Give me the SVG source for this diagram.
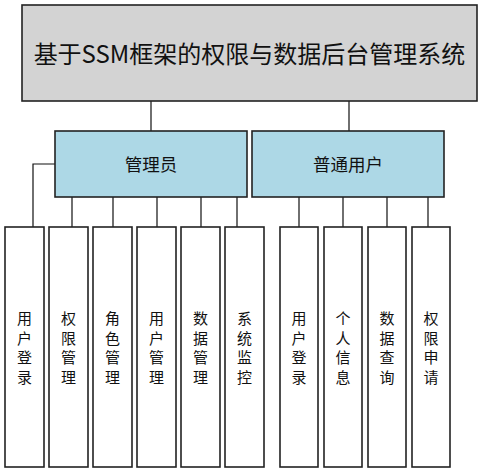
<svg xmlns="http://www.w3.org/2000/svg" width="483" height="473" viewBox="0 0 483 473">
<style>
.box{stroke:#222;stroke-width:1.6}
.root{fill:#d3d3d3}
.mid{fill:#add8e6}
.leaf{fill:#fff}
text{font-family:"Noto Sans CJK SC","Liberation Sans",sans-serif;fill:#111;text-anchor:middle;dominant-baseline:central}
.t1{font-size:24px}
.t2{font-size:17.5px}
.t3{font-size:15px}
.conn{fill:none;stroke:#111;stroke-width:1.2}
</style>
<rect width="483" height="473" fill="#fff"/>
<g id="connectors" class="conn">
<path d="M151 101V131M349 101V131"/>
<path d="M55 164H33V227M72 197V227M113 197V227M157 197V227M201 197V227M237 197V227"/>
<path d="M299 197V227M343 197V227M387 197V227M428 197V227"/>
</g>
<g id="root"><rect class="box root" x="22" y="5" width="455" height="96"/><text class="t1" x="249.5" y="52">基于SSM框架的权限与数据后台管理系统</text></g>
<g id="admin"><rect class="box mid" x="55" y="131" width="192" height="66"/><text class="t2" x="151" y="163">管理员</text></g>
<g id="user"><rect class="box mid" x="252" y="131" width="192" height="66"/><text class="t2" x="348" y="163">普通用户</text></g>
<g id="leaf1"><rect class="box leaf" x="5" y="227" width="39" height="240"/><text class="t3" x="24.5"><tspan x="24.5" y="317">用</tspan><tspan x="24.5" y="336.5">户</tspan><tspan x="24.5" y="356">登</tspan><tspan x="24.5" y="375.5">录</tspan></text></g>
<g id="leaf2"><rect class="box leaf" x="49" y="227" width="39" height="240"/><text class="t3" x="68.5"><tspan x="68.5" y="317">权</tspan><tspan x="68.5" y="336.5">限</tspan><tspan x="68.5" y="356">管</tspan><tspan x="68.5" y="375.5">理</tspan></text></g>
<g id="leaf3"><rect class="box leaf" x="93" y="227" width="39" height="240"/><text class="t3" x="112.5"><tspan x="112.5" y="317">角</tspan><tspan x="112.5" y="336.5">色</tspan><tspan x="112.5" y="356">管</tspan><tspan x="112.5" y="375.5">理</tspan></text></g>
<g id="leaf4"><rect class="box leaf" x="137" y="227" width="39" height="240"/><text class="t3" x="156.5"><tspan x="156.5" y="317">用</tspan><tspan x="156.5" y="336.5">户</tspan><tspan x="156.5" y="356">管</tspan><tspan x="156.5" y="375.5">理</tspan></text></g>
<g id="leaf5"><rect class="box leaf" x="181" y="227" width="39" height="240"/><text class="t3" x="200.5"><tspan x="200.5" y="317">数</tspan><tspan x="200.5" y="336.5">据</tspan><tspan x="200.5" y="356">管</tspan><tspan x="200.5" y="375.5">理</tspan></text></g>
<g id="leaf6"><rect class="box leaf" x="225" y="227" width="39" height="240"/><text class="t3" x="244.5"><tspan x="244.5" y="317">系</tspan><tspan x="244.5" y="336.5">统</tspan><tspan x="244.5" y="356">监</tspan><tspan x="244.5" y="375.5">控</tspan></text></g>
<g id="leaf7"><rect class="box leaf" x="280" y="227" width="38" height="240"/><text class="t3" x="299"><tspan x="299" y="317">用</tspan><tspan x="299" y="336.5">户</tspan><tspan x="299" y="356">登</tspan><tspan x="299" y="375.5">录</tspan></text></g>
<g id="leaf8"><rect class="box leaf" x="324" y="227" width="38" height="240"/><text class="t3" x="343"><tspan x="343" y="317">个</tspan><tspan x="343" y="336.5">人</tspan><tspan x="343" y="356">信</tspan><tspan x="343" y="375.5">息</tspan></text></g>
<g id="leaf9"><rect class="box leaf" x="368" y="227" width="38" height="240"/><text class="t3" x="387"><tspan x="387" y="317">数</tspan><tspan x="387" y="336.5">据</tspan><tspan x="387" y="356">查</tspan><tspan x="387" y="375.5">询</tspan></text></g>
<g id="leaf10"><rect class="box leaf" x="412" y="227" width="38" height="240"/><text class="t3" x="431"><tspan x="431" y="317">权</tspan><tspan x="431" y="336.5">限</tspan><tspan x="431" y="356">申</tspan><tspan x="431" y="375.5">请</tspan></text></g>
</svg>
